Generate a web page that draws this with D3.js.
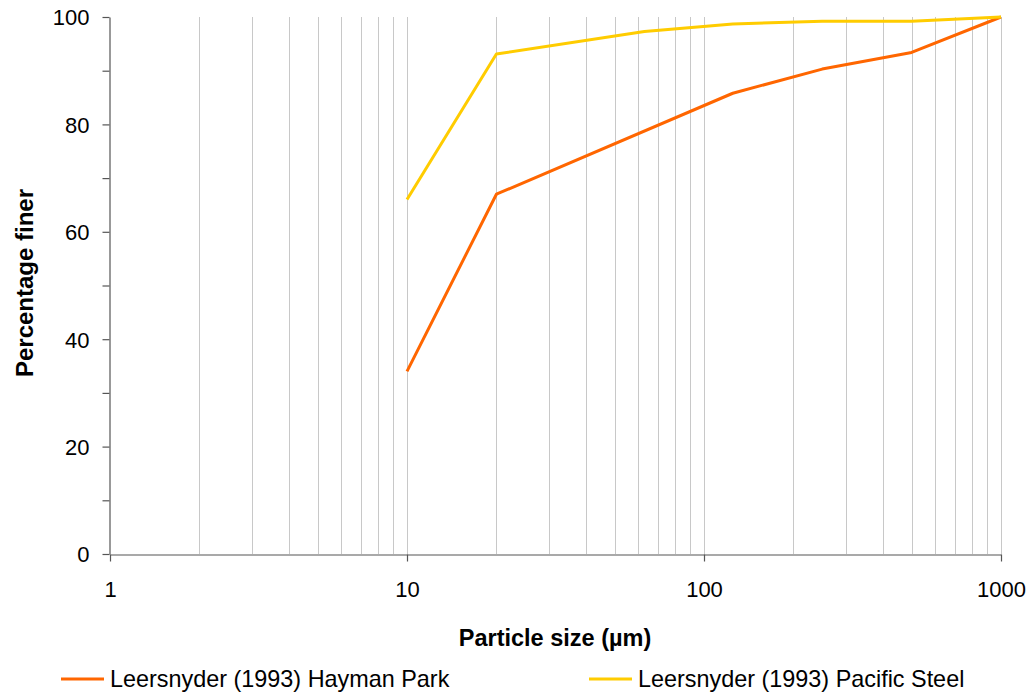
<!DOCTYPE html>
<html>
<head>
<meta charset="utf-8">
<script src="https://cdn.jsdelivr.net/npm/d3@7"></script>
<style>
  html, body { margin: 0; padding: 0; background: #fff; }
  svg { display: block; font-family: "Liberation Sans", Arial, sans-serif; }
</style>
</head>
<body>
<svg id="chart" width="1036" height="695"></svg>
<script>
// Particle size distributions (cumulative % finer)
const haymanSizes = [10, 20, 125, 250, 500, 1000];
const haymanFiner = [34, 67, 85.8, 90.3, 93.4, 100];
const pacificSizes = [10, 20, 63, 125, 250, 500, 1000];
const pacificFiner = [66, 93.1, 97.3, 98.7, 99.2, 99.2, 100];

const seriesNames = ["Leersnyder (1993) Hayman Park", "Leersnyder (1993) Pacific Steel"];
const seriesColors = ["#FF6600", "#FFCC00"];

const xTickValues = [1, 10, 100, 1000];
const yMajorTicks = [0, 20, 40, 60, 80, 100];
const yAllTicks = [0, 10, 20, 30, 40, 50, 60, 70, 80, 90, 100];

const svg = d3.select("#chart");
const plotLeft = 110, plotRight = 1001, plotTop = 17, plotBottom = 554;

const x = d3.scaleLog().domain([1, 1000]).range([plotLeft, plotRight]);
const y = d3.scaleLinear().domain([0, 100]).range([plotBottom, plotTop]);

// vertical grid at every log subdivision
const gridVals = [];
for (let d = 1; d < 1000; d *= 10) {
  for (let k = 2; k <= 10; k++) gridVals.push(d * k);
}
svg.append("g").selectAll("line").data(gridVals).join("line")
  .attr("x1", d => Math.round(x(d)) + 0.5).attr("x2", d => Math.round(x(d)) + 0.5)
  .attr("y1", plotTop).attr("y2", plotBottom)
  .attr("stroke", "#c8c8c8").attr("stroke-width", 1);

// axes
const yAxis = svg.append("g").attr("transform", `translate(${plotLeft - 0.5},0)`)
  .call(d3.axisLeft(y).tickValues(yAllTicks).tickSize(7).tickSizeOuter(0)
    .tickFormat(d => yMajorTicks.includes(d) ? d : ""));
const xAxis = svg.append("g").attr("transform", `translate(0,${plotBottom + 0.5})`)
  .call(d3.axisBottom(x).tickValues(xTickValues).tickSize(7).tickSizeOuter(0)
    .tickFormat(d3.format("d")));

[yAxis, xAxis].forEach(g => {
  g.select(".domain").attr("stroke", "#555").attr("stroke-width", 1.2);
  g.selectAll(".tick line").attr("stroke", "#555").attr("stroke-width", 1.2);
  g.selectAll(".tick text").attr("fill", "#000").style("font-size", "22px")
    .style("font-family", '"Liberation Sans", Arial, sans-serif');
});
yAxis.selectAll(".tick text").attr("x", -20).attr("dy", "0.36em");
xAxis.selectAll(".tick text").attr("y", 42).attr("dy", 0);

// series lines
const line = d3.line().x(d => x(d[0])).y(d => y(d[1]));
const series = [
  d3.zip(haymanSizes, haymanFiner),
  d3.zip(pacificSizes, pacificFiner)
];
series.forEach((pts, i) => {
  svg.append("path").datum(pts)
    .attr("d", line).attr("fill", "none")
    .attr("stroke", seriesColors[i]).attr("stroke-width", 3)
    .attr("stroke-linejoin", "round");
});

// axis titles
svg.append("text").attr("x", 555).attr("y", 646)
  .attr("text-anchor", "middle").style("font-size", "23.5px").style("font-weight", "bold")
  .text("Particle size (\u00b5m)");
svg.append("text").attr("transform", "translate(33,283) rotate(-90)")
  .attr("text-anchor", "middle").style("font-size", "24px").style("font-weight", "bold")
  .text("Percentage finer");

// legend
const legendX = [61, 589];
seriesNames.forEach((name, i) => {
  const g = svg.append("g").attr("transform", `translate(${legendX[i]},679)`);
  g.append("line").attr("x1", 0).attr("x2", 43).attr("y1", 0).attr("y2", 0)
    .attr("stroke", seriesColors[i]).attr("stroke-width", 3);
  g.append("text").attr("x", 49).attr("y", 7.5).style("font-size", "23.4px").text(name);
});
</script>
</body>
</html>
